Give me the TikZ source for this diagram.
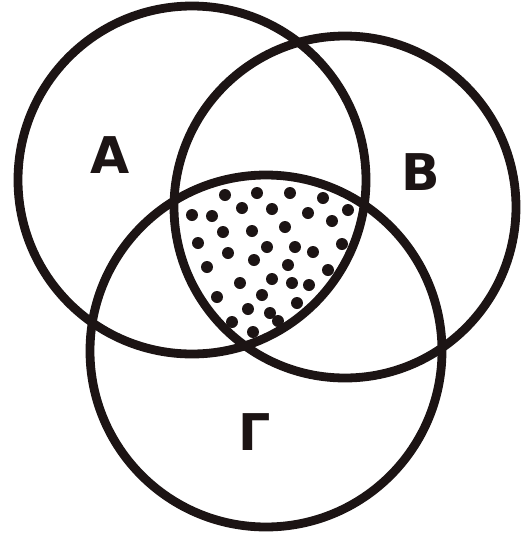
\documentclass[tikz,border=0pt]{standalone}
\usepackage{fontspec}
\setmainfont{DejaVu Sans}
\definecolor{ink}{RGB}{28,20,20}
\tikzset{setline/.style={draw=ink, line width=2.2mm},
  setlabel/.style={text=ink, font=\fontsize{36}{40}\selectfont\bfseries, inner sep=0pt}}
\begin{document}
\begin{tikzpicture}[x=0.25mm, y=-0.25mm]
      \useasboundingbox (0,0) rectangle (524,535);
      \coordinate (cA) at (192,180); \coordinate (cB) at (345,207);
      \coordinate (cG) at (266,351);
      % dots in A, B and Gamma together
      \begin{scope}
        \clip (cA) circle (174); \clip (cB) circle (171); \clip (cG) circle (176);
        \foreach \x/\y in {225/195, 257/193, 290/193, 323/198, 192/215, 212/216,
          242/208, 272/209, 308/213, 332/221, 348/210, 223/232, 252/231,
          285/227, 198/243, 228/253, 267/247, 295/247, 313/252, 342/244,
          207/267, 254/260, 288/265, 328/270, 240/283, 272/279, 292/283,
          309/285, 217/297, 262/295, 297/303, 248/309, 270/313, 278/321,
          232/322, 253/332}
          \fill[ink] (\x,\y) circle (6);
      \end{scope}
      \draw[setline] (cA) circle (174); \draw[setline] (cB) circle (171);
      \draw[setline] (cG) circle (176);
      \node[setlabel] (A) at (110,155) {A}; \node[setlabel] (B) at (421,172)
      {B}; \node[setlabel] (G) at (255,432) {Γ};
    \end{tikzpicture}
\end{document}
